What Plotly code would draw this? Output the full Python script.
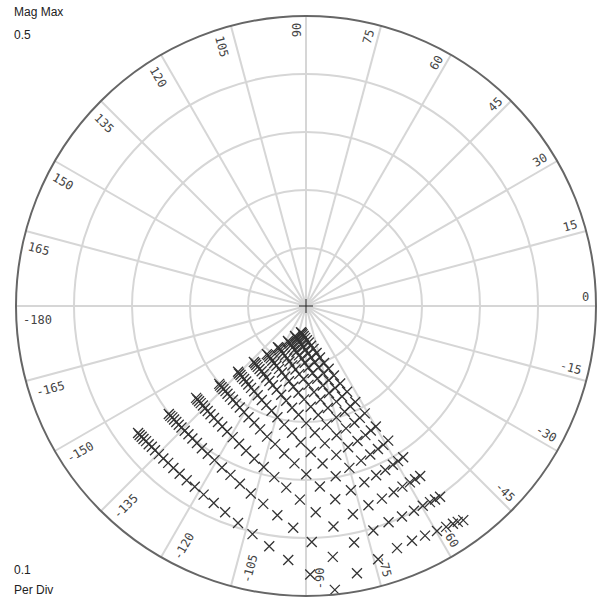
import numpy as np
import plotly.graph_objects as go

# Measured points: one sweep per curve, magnitude and phase (degrees)
mag_0 = [0.046, 0.047, 0.049, 0.052, 0.055, 0.059, 0.063, 0.069, 0.075, 0.083, 0.092, 0.103, 0.115, 0.129, 0.146, 0.164, 0.186, 0.211, 0.240, 0.272, 0.310, 0.353, 0.402, 0.458]
ang_0 = [-100.9, -99.0, -96.8, -94.2, -91.4, -88.5, -85.7, -82.8, -80.0, -77.3, -74.8, -72.4, -70.1, -68.1, -66.2, -64.4, -62.8, -61.3, -59.9, -58.6, -57.3, -56.1, -54.9, -53.7]
mag_1 = [0.055, 0.056, 0.058, 0.060, 0.063, 0.067, 0.071, 0.076, 0.082, 0.089, 0.098, 0.108, 0.120, 0.134, 0.150, 0.168, 0.189, 0.214, 0.242, 0.274, 0.311, 0.353, 0.401, 0.455]
ang_1 = [-110.1, -108.3, -106.0, -103.3, -100.3, -97.2, -94.1, -90.8, -87.5, -84.3, -81.3, -78.3, -75.5, -73.0, -70.5, -68.3, -66.2, -64.3, -62.5, -60.9, -59.3, -57.8, -56.3, -54.9]
mag_2 = [0.068, 0.069, 0.070, 0.072, 0.075, 0.078, 0.081, 0.086, 0.091, 0.098, 0.106, 0.116, 0.127, 0.140, 0.155, 0.173, 0.194, 0.218, 0.245, 0.276, 0.312, 0.353, 0.400, 0.453]
ang_2 = [-117.2, -115.5, -113.3, -110.7, -107.9, -104.8, -101.6, -98.2, -94.7, -91.3, -87.8, -84.4, -81.2, -78.1, -75.2, -72.4, -69.9, -67.5, -65.3, -63.3, -61.3, -59.5, -57.7, -56.0]
mag_3 = [0.086, 0.086, 0.088, 0.089, 0.091, 0.093, 0.096, 0.100, 0.105, 0.111, 0.118, 0.126, 0.136, 0.149, 0.163, 0.180, 0.199, 0.222, 0.249, 0.279, 0.314, 0.353, 0.399, 0.451]
ang_3 = [-124.3, -122.7, -120.8, -118.5, -115.9, -113.0, -109.9, -106.6, -103.0, -99.4, -95.7, -91.9, -88.2, -84.7, -81.2, -77.9, -74.8, -71.9, -69.1, -66.6, -64.2, -61.9, -59.7, -57.6]
mag_4 = [0.107, 0.107, 0.108, 0.109, 0.111, 0.113, 0.115, 0.118, 0.122, 0.127, 0.133, 0.141, 0.150, 0.161, 0.174, 0.189, 0.208, 0.229, 0.254, 0.283, 0.316, 0.355, 0.399, 0.449]
ang_4 = [-129.1, -127.7, -126.0, -124.0, -121.7, -119.1, -116.3, -113.2, -109.9, -106.4, -102.7, -98.9, -95.0, -91.2, -87.3, -83.6, -80.1, -76.7, -73.4, -70.4, -67.5, -64.8, -62.2, -59.8]
mag_5 = [0.132, 0.132, 0.133, 0.134, 0.135, 0.136, 0.138, 0.141, 0.144, 0.148, 0.153, 0.159, 0.167, 0.177, 0.188, 0.202, 0.219, 0.239, 0.262, 0.289, 0.320, 0.357, 0.399, 0.446]
ang_5 = [-132.9, -131.6, -130.2, -128.4, -126.4, -124.2, -121.8, -119.0, -116.0, -112.7, -109.3, -105.6, -101.8, -97.8, -93.9, -89.9, -86.0, -82.2, -78.5, -75.0, -71.7, -68.5, -65.5, -62.6]
mag_6 = [0.163, 0.164, 0.164, 0.165, 0.165, 0.166, 0.168, 0.170, 0.172, 0.175, 0.179, 0.184, 0.190, 0.198, 0.208, 0.220, 0.235, 0.252, 0.273, 0.298, 0.327, 0.360, 0.399, 0.444]
ang_6 = [-135.9, -134.8, -133.5, -132.0, -130.3, -128.4, -126.3, -123.9, -121.3, -118.4, -115.2, -111.8, -108.2, -104.4, -100.4, -96.3, -92.2, -88.1, -84.0, -80.1, -76.3, -72.6, -69.1, -65.7]
mag_7 = [0.201, 0.202, 0.202, 0.202, 0.202, 0.203, 0.204, 0.205, 0.207, 0.209, 0.212, 0.216, 0.220, 0.227, 0.235, 0.244, 0.257, 0.272, 0.290, 0.312, 0.337, 0.368, 0.404, 0.446]
ang_7 = [-138.1, -137.2, -136.1, -134.8, -133.4, -131.8, -130.0, -127.9, -125.6, -123.1, -120.3, -117.3, -113.9, -110.4, -106.6, -102.6, -98.4, -94.2, -89.9, -85.6, -81.4, -77.3, -73.3, -69.4]
mag_8 = [0.247, 0.247, 0.247, 0.247, 0.247, 0.248, 0.248, 0.249, 0.250, 0.251, 0.253, 0.256, 0.259, 0.264, 0.270, 0.278, 0.287, 0.300, 0.315, 0.334, 0.356, 0.383, 0.416, 0.454]
ang_8 = [-140.1, -139.3, -138.3, -137.3, -136.0, -134.6, -133.1, -131.4, -129.4, -127.2, -124.8, -122.1, -119.2, -115.9, -112.5, -108.7, -104.7, -100.5, -96.2, -91.8, -87.3, -82.9, -78.5, -74.1]
mag_9 = [0.301, 0.301, 0.300, 0.300, 0.300, 0.300, 0.300, 0.300, 0.300, 0.301, 0.302, 0.304, 0.306, 0.309, 0.314, 0.319, 0.327, 0.337, 0.349, 0.364, 0.383, 0.407, 0.435, 0.469]
ang_9 = [-141.8, -141.0, -140.2, -139.3, -138.2, -137.0, -135.7, -134.2, -132.5, -130.6, -128.5, -126.2, -123.6, -120.7, -117.5, -114.1, -110.4, -106.4, -102.2, -97.8, -93.3, -88.6, -83.9, -79.2]
mag_10 = [0.363, 0.363, 0.362, 0.362, 0.361, 0.361, 0.360, 0.360, 0.360, 0.360, 0.360, 0.361, 0.362, 0.364, 0.366, 0.370, 0.375, 0.382, 0.392, 0.404, 0.419, 0.439, 0.463, 0.492]
ang_10 = [-142.9, -142.2, -141.5, -140.7, -139.8, -138.7, -137.6, -136.3, -134.8, -133.1, -131.3, -129.3, -127.0, -124.4, -121.6, -118.5, -115.1, -111.4, -107.4, -103.2, -98.7, -94.0, -89.1, -84.2]

curves = [(mag_0, ang_0), (mag_1, ang_1), (mag_2, ang_2), (mag_3, ang_3), (mag_4, ang_4),
          (mag_5, ang_5), (mag_6, ang_6), (mag_7, ang_7), (mag_8, ang_8), (mag_9, ang_9),
          (mag_10, ang_10)]

# Scale: full scale magnitude and size of one division
mag_max = 0.5
per_div = 0.1
angle_ticks = list(range(0, 180, 15)) + list(range(-180, 0, 15))

fig = go.Figure()
for mags, angs in curves:
    fig.add_trace(go.Scatterpolar(
        r=mags, theta=angs, mode="markers",
        marker=dict(symbol="x-thin", size=10, line=dict(width=1.3, color="#333333")),
        hoverinfo="skip"))
# origin cross
fig.add_trace(go.Scatterpolar(
    r=[0], theta=[0], mode="markers",
    marker=dict(symbol="cross-thin", size=10, line=dict(width=1, color="#222222")),
    hoverinfo="skip"))

# plot area is a 580 px square; angle labels sit just inside the rim, along each spoke,
# on the counter-clockwise side of it
side = 580.0
ann = []
for t in angle_ticks:
    lab = str(t)
    if t == 90:
        rot = 90
    elif t > 90:
        rot = t - 180
    elif t <= -90:
        rot = t + 180
    else:
        rot = t
    side_off = 9 if -90 < t <= 90 else 14
    dist = 283 - len(lab) * 7.2 / 2
    a = np.radians(t)
    px = dist * np.cos(a) - side_off * np.sin(a)
    py = dist * np.sin(a) + side_off * np.cos(a)
    ann.append(dict(x=0.5 + px / side, y=0.5 + py / side, xref="paper", yref="paper", text=lab,
                    showarrow=False, textangle=-rot, xanchor="center", yanchor="middle",
                    font=dict(family="DejaVu Sans Mono", size=12, color="#444444")))

corner = [("Mag Max", 1.007), (f"{mag_max:g}", 0.967), (f"{per_div:g}", 0.0448), ("Per Div", 0.0103)]
for txt, yy in corner:
    ann.append(dict(x=-0.007, y=yy, xref="paper", yref="paper", text=txt, showarrow=False,
                    xanchor="left", yanchor="middle",
                    font=dict(family="Liberation Sans", size=12, color="#222222")))

fig.update_layout(
    width=602, height=598, margin=dict(l=16, r=6, t=16, b=2), paper_bgcolor="white",
    showlegend=False, annotations=ann,
    polar=dict(
        bgcolor="white", domain=dict(x=[0, 1], y=[0, 1]),
        radialaxis=dict(range=[0, mag_max], dtick=per_div, tick0=0, showticklabels=False, ticks="",
                        showline=False, gridcolor="#d6d6d6", gridwidth=1.5),
        angularaxis=dict(dtick=15, direction="counterclockwise", rotation=0, showticklabels=False,
                         ticks="", gridcolor="#d6d6d6", gridwidth=1.5, showline=True,
                         linecolor="#666666", linewidth=2)))

fig.write_html("out.html")
